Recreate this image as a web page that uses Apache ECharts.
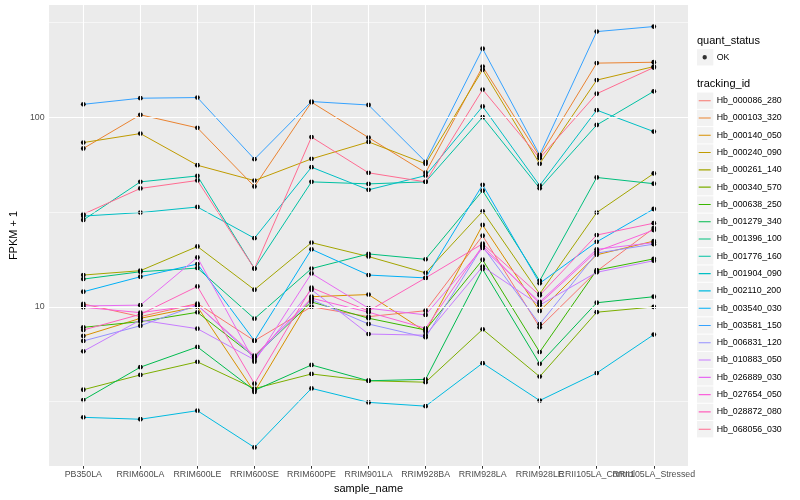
<!DOCTYPE html>
<html><head><meta charset="utf-8">
<script src="https://cdn.jsdelivr.net/npm/echarts@6/dist/echarts.min.js"></script>
<style>html,body{margin:0;padding:0;background:#fff}#c{width:800px;height:500px}</style>
</head><body><div id="c"></div>
<script>
// ---------- data ----------
const categories = ["PB350LA","RRIM600LA","RRIM600LE","RRIM600SE","RRIM600PE","RRIM901LA","RRIM928BA","RRIM928LA","RRIM928LE","RRII105LA_Control","RRII105LA_Stressed"];
const trackingIds = ["Hb_000086_280","Hb_000103_320","Hb_000140_050","Hb_000240_090","Hb_000261_140","Hb_000340_570","Hb_000638_250","Hb_001279_340","Hb_001396_100","Hb_001776_160","Hb_001904_090","Hb_002110_200","Hb_003540_030","Hb_003581_150","Hb_006831_120","Hb_010883_050","Hb_026889_030","Hb_027654_050","Hb_028872_080","Hb_068056_030"];
const quantStatus = ["OK"];
const yTickValues = [10, 100];
const yMinorValues = [3.162, 31.62, 316.2];

const Hb_000086_280 = [10.35, 8.87, 10.4, 6.62, 10.0, 8.87, 9.53, 23.7, 7.79, 15.4, 26.0];
const Hb_000103_320 = [68.4, 103, 87.9, 43.1, 120, 78.1, 51, 185, 62, 193, 195];
const Hb_000140_050 = [7.01, 8.69, 10.0, 3.55, 11.3, 11.6, 7.39, 27.0, 9.5, 18.8, 22.2];
const Hb_000240_090 = [73.5, 82, 55.8, 46.3, 60.3, 74.1, 56.8, 178, 56.8, 157, 185];
const Hb_000261_140 = [14.7, 15.5, 20.8, 12.3, 21.8, 18.4, 15.1, 31.9, 11.7, 31.4, 50.5];
const Hb_000340_570 = [3.65, 4.37, 5.12, 3.70, 4.42, 4.07, 4.0, 7.6, 4.28, 9.36, 9.98];
const Hb_000638_250 = [7.79, 8.35, 9.35, 5.45, 10.6, 8.7, 7.54, 17.7, 5.77, 15.6, 17.9];
const Hb_001279_340 = [3.22, 4.80, 6.14, 3.62, 4.93, 4.07, 4.14, 15.8, 5.0, 10.5, 11.3];
const Hb_001396_100 = [14.0, 15.3, 16.0, 8.65, 15.9, 19.0, 17.8, 41.0, 13.7, 48.1, 44.6];
const Hb_001776_160 = [28.7, 45.6, 49.0, 15.9, 45.6, 44.5, 45.6, 100, 42.2, 91, 137];
const Hb_001904_090 = [30.1, 31.4, 33.6, 23.0, 54.5, 41.4, 49.2, 114, 43.6, 109, 84];
const Hb_002110_200 = [2.61, 2.55, 2.83, 1.81, 3.71, 3.13, 2.99, 5.04, 3.2, 4.47, 7.13];
const Hb_003540_030 = [12.0, 14.4, 16.8, 6.62, 20.1, 14.7, 14.2, 44.0, 13.3, 22.0, 32.8];
const Hb_003581_150 = [117, 126, 127, 60.1, 121, 116, 58.2, 230, 63.2, 283, 301];
const Hb_006831_120 = [6.6, 7.94, 10.2, 5.4, 10.9, 8.11, 6.9, 20.8, 8.09, 19.2, 21.4];
const Hb_010883_050 = [5.82, 8.51, 7.66, 5.25, 12.3, 7.18, 7.08, 16.3, 10.2, 15.2, 17.5];
const Hb_026889_030 = [10.1, 10.2, 18.2, 5.13, 15.0, 9.82, 9.06, 20.4, 10.6, 20.1, 21.8];
const Hb_027654_050 = [9.94, 9.31, 10.2, 5.52, 11.1, 9.36, 7.7, 21.0, 10.4, 19.6, 25.4];
const Hb_028872_080 = [7.54, 9.12, 12.8, 3.93, 12.6, 9.5, 14.2, 21.5, 11.5, 23.9, 27.6];
const Hb_068056_030 = [30.8, 42.1, 46.4, 15.9, 78.6, 50.9, 45.6, 140, 60.8, 133, 183];

const seriesValues = [Hb_000086_280, Hb_000103_320, Hb_000140_050, Hb_000240_090, Hb_000261_140,
  Hb_000340_570, Hb_000638_250, Hb_001279_340, Hb_001396_100, Hb_001776_160, Hb_001904_090,
  Hb_002110_200, Hb_003540_030, Hb_003581_150, Hb_006831_120, Hb_010883_050, Hb_026889_030,
  Hb_027654_050, Hb_028872_080, Hb_068056_030];

// ---------- style ----------
const colors = ["#F8766D","#EA8331","#D89000","#C09B00","#A3A500","#7CAE00","#39B600","#00BB4E","#00BF7D","#00C1A3","#00BFC4","#00BAE0","#00B0F6","#35A2FF","#9590FF","#C77CFF","#E76BF3","#FA62DB","#FF62BC","#FF6C91"];
const FONT = "'Liberation Sans', Arial, Helvetica, sans-serif";
const KEY_W = 14, KEY_H = 17.29;
const lineIcon = 'path://M0,0h0.01v0.01h-0.01z M13.99,17.28h0.01v0.01h-0.01z M1,8.1h12v1.1h-12z';
const okIcon = 'path://M0,0h0.01v0.01h-0.01z M13.99,17.28h0.01v0.01h-0.01z M4.8,8.65a2.2,2.2 0 1,0 4.4,0a2.2,2.2 0 1,0 -4.4,0z';

const chart = echarts.init(document.getElementById('c'), null, {renderer: 'canvas'});

const catIdx = categories.map((c, i) => i);
const evenIdx = catIdx.filter(i => i % 2 === 0);
const oddIdx = catIdx.filter(i => i % 2 === 1);

const gridLineData = [
  ...yMinorValues.map(v => ({yAxis: v, lineStyle: {color: '#fff', width: 0.55, type: 'solid'}})),
  ...yTickValues.map(v => ({yAxis: v, lineStyle: {color: '#fff', width: 1.1, type: 'solid'}})),
  ...catIdx.map(i => ({xAxis: i, lineStyle: {color: '#fff', width: 1.1, type: 'solid'}}))
];

const series = [{
  type: 'line', name: '__grid', data: [], z: 1, silent: true, animation: false,
  markLine: {silent: true, symbol: ['none', 'none'], label: {show: false}, animation: false,
    emphasis: {disabled: true}, data: gridLineData}
}, {
  type: 'scatter', name: 'OK', data: [], itemStyle: {color: '#000'}
}];
trackingIds.forEach((id, k) => {
  series.push({
    name: id, type: 'line', z: 3,
    data: categories.map((c, i) => [i, seriesValues[k][i]]),
    symbol: 'circle', symbolSize: 4.8, showSymbol: true,
    itemStyle: {color: '#000', borderWidth: 0, borderColor: '#000', opacity: 1},
    lineStyle: {color: colors[k], width: 1},
    emphasis: {disabled: true}, animation: false
  });
});

const legendTop = 92.05, okTop = 48.65, keyX = 697.7;
const graphics = [
  {type: 'text', x: 697, y: 40.7, style: {text: 'quant_status', font: '11px ' + FONT, fill: '#000', verticalAlign: 'middle'}},
  {type: 'text', x: 697, y: 84.3, style: {text: 'tracking_id', font: '11px ' + FONT, fill: '#000', verticalAlign: 'middle'}},
  {type: 'rect', z: 0, shape: {x: 697, y: okTop + 0.5, width: 16.3, height: 16.3}, style: {fill: '#F2F2F2'}}
];
trackingIds.forEach((id, k) => {
  graphics.push({type: 'rect', z: 0, shape: {x: 697, y: legendTop + k * KEY_H + 0.5, width: 16.3, height: 16.3}, style: {fill: '#F2F2F2'}});
});

const legendText = {fontFamily: FONT, fontSize: 8.8, color: '#000'};
const xLabelStyle = {formatter: v => categories[Math.round(v)], fontFamily: FONT, fontSize: 8.8,
  color: '#4D4D4D', margin: 4, hideOverlap: false, showMinLabel: true, showMaxLabel: true};

chart.setOption({
  animation: false,
  backgroundColor: '#fff',
  textStyle: {fontFamily: FONT},
  grid: {left: 40, right: 112, top: 5, bottom: 34, show: true, backgroundColor: '#EBEBEB', borderWidth: 0, containLabel: false},
  xAxis: [{
    type: 'value', min: -0.6, max: 10.6, position: 'bottom',
    name: 'sample_name', nameLocation: 'middle', nameGap: 16,
    nameTextStyle: {fontFamily: FONT, fontSize: 11, color: '#000'},
    axisLine: {show: false},
    splitLine: {show: false},
    axisTick: {show: true, length: 2.7, lineStyle: {color: '#333333', width: 1}, customValues: catIdx},
    axisLabel: Object.assign({customValues: evenIdx}, xLabelStyle)
  }, {
    type: 'value', min: -0.6, max: 10.6, position: 'bottom', gridIndex: 0,
    axisLine: {show: false}, splitLine: {show: false}, axisTick: {show: false},
    axisLabel: Object.assign({customValues: oddIdx}, xLabelStyle)
  }],
  yAxis: {
    type: 'log', logBase: 10, min: 1.445, max: 391,
    name: 'FPKM + 1', nameLocation: 'middle', nameGap: 21, nameRotate: 90,
    nameTextStyle: {fontFamily: FONT, fontSize: 11, color: '#000'},
    axisLine: {show: false},
    splitLine: {show: false},
    minorSplitLine: {show: false},
    axisTick: {show: true, length: 2.7, lineStyle: {color: '#333333', width: 1}, customValues: yTickValues},
    axisLabel: {customValues: yTickValues, fontFamily: FONT, fontSize: 8.8, color: '#4D4D4D', margin: 4.5,
      formatter: v => String(Math.round(v))}
  },
  legend: [
    {orient: 'vertical', left: keyX, top: okTop, padding: 0, itemGap: 0, itemWidth: KEY_W, itemHeight: KEY_H,
     selectedMode: false, textStyle: legendText,
     data: quantStatus.map(n => ({name: n, icon: okIcon, itemStyle: {color: '#000', borderWidth: 0}}))},
    {orient: 'vertical', left: keyX, top: legendTop, padding: 0, itemGap: 0, itemWidth: KEY_W, itemHeight: KEY_H,
     selectedMode: false, textStyle: legendText,
     data: trackingIds.map((n, k) => ({name: n, icon: lineIcon, itemStyle: {color: colors[k], borderWidth: 0}}))}
  ],
  graphic: graphics,
  series: series
});
</script></body></html>
